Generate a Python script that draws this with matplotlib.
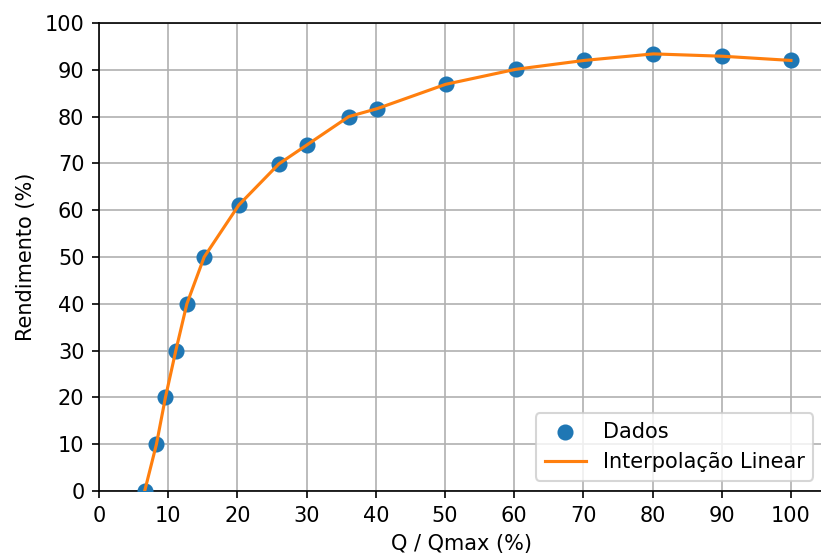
import numpy as np
import matplotlib.pyplot as plt

# Q / Qmax (%) and rendimento (%)
vazao = [6.6, 8.3, 9.6, 11.1, 12.7, 15.2, 20.2, 26.0, 30.1, 36.1, 40.2, 50.1, 60.2, 70.1, 80.1, 90.1, 100.0]
rendimento = [0, 10, 20, 30, 40, 50, 61.1, 69.9, 74.0, 80.0, 81.7, 86.9, 90.1, 92.0, 93.4, 92.9, 92.0]

dpi = 150
fig = plt.figure(figsize=(821 / dpi, 557 / dpi), dpi=dpi)
ax = fig.add_axes([0.1206, 0.1185, 0.8824, 0.8402])

ax.scatter(vazao, rendimento, s=45, color='#1f77b4', label='Dados', zorder=3)
ax.plot(vazao, rendimento, color='#ff7f0e', label='Interpolação Linear', zorder=4)

ax.set_xlim(0, 104.7)
ax.set_ylim(0, 100)
ax.set_xticks(np.arange(0, 101, 10))
ax.set_yticks(np.arange(0, 101, 10))
ax.grid(True)
ax.set_axisbelow(True)

ax.set_xlabel('Q / Qmax (%)')
ax.set_ylabel('Rendimento (%)')
ax.legend(loc='lower right')

fig.savefig('out.png', dpi=dpi)
